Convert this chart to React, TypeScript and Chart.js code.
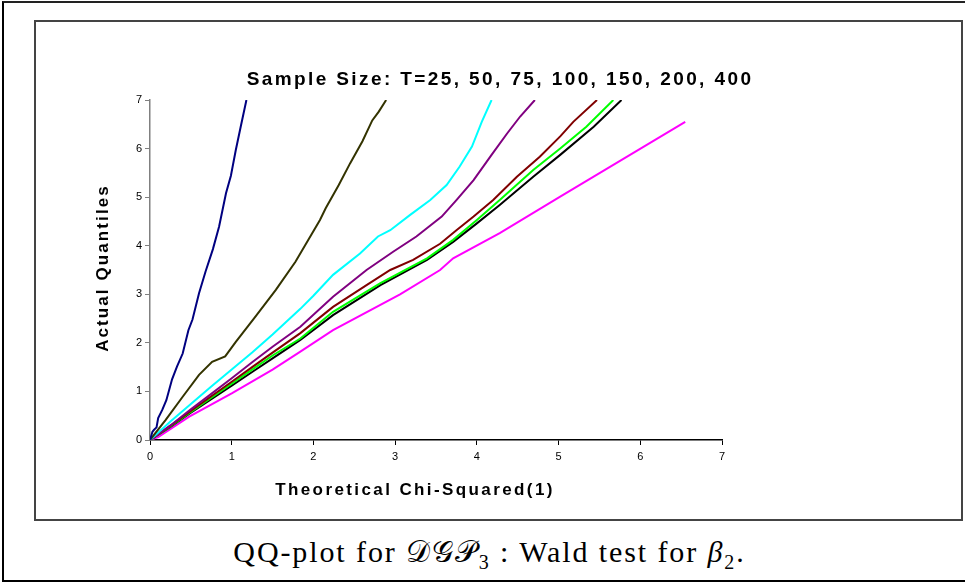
import React, { useEffect, useRef } from 'react';
import { Chart, registerables } from 'chart.js';

Chart.register(...registerables);

// ---- data (theoretical chi-squared(1) quantile, actual quantile) ----
const t25: [number, number][] = [
  [0, 0], [0.03, 0.17], [0.05, 0.21], [0.08, 0.26], [0.1, 0.45], [0.15, 0.62], [0.2, 0.82],
  [0.27, 1.25], [0.33, 1.51], [0.4, 1.78], [0.47, 2.26], [0.52, 2.48], [0.6, 3.02], [0.68, 3.47],
  [0.77, 3.93], [0.845, 4.39], [0.93, 5.08], [0.99, 5.44], [1.05, 5.97], [1.11, 6.45], [1.18, 7.0],
];
const t50: [number, number][] = [
  [0, 0], [0.19, 0.41], [0.4, 0.89], [0.6, 1.34], [0.76, 1.61], [0.92, 1.72], [1.05, 2.02],
  [1.29, 2.54], [1.54, 3.09], [1.78, 3.67], [2.08, 4.53], [2.15, 4.77], [2.31, 5.25], [2.45, 5.7],
  [2.6, 6.15], [2.72, 6.58], [2.8, 6.76], [2.89, 7.0],
];
const t75: [number, number][] = [
  [0, 0], [0.25, 0.38], [0.5, 0.74], [0.75, 1.1], [1.0, 1.45], [1.25, 1.8], [1.5, 2.17],
  [1.84, 2.7], [2.0, 2.97], [2.24, 3.4], [2.57, 3.84], [2.79, 4.19], [2.94, 4.32], [3.18, 4.63],
  [3.43, 4.94], [3.63, 5.25], [3.79, 5.63], [3.94, 6.04], [4.06, 6.55], [4.18, 7.0],
];
const t100: [number, number][] = [
  [0, 0], [0.25, 0.3], [0.5, 0.63], [0.75, 0.95], [1.0, 1.27], [1.25, 1.6], [1.5, 1.92],
  [1.84, 2.33], [2.24, 2.95], [2.65, 3.5], [2.98, 3.88], [3.26, 4.19], [3.57, 4.6], [3.75, 4.94],
  [3.96, 5.35], [4.18, 5.87], [4.37, 6.31], [4.53, 6.66], [4.71, 7.0],
];
const t150: [number, number][] = [
  [0, 0], [0.25, 0.29], [0.5, 0.6], [0.75, 0.9], [1.0, 1.2], [1.25, 1.5], [1.5, 1.8],
  [1.84, 2.2], [2.24, 2.74], [2.65, 3.19], [2.94, 3.5], [3.22, 3.71], [3.55, 4.04], [3.75, 4.32],
  [3.96, 4.6], [4.2, 4.94], [4.49, 5.42], [4.77, 5.83], [5.02, 6.25], [5.18, 6.55], [5.47, 7.0],
];
const t200: [number, number][] = [
  [0, 0], [0.25, 0.28], [0.5, 0.58], [0.75, 0.87], [1.0, 1.16], [1.25, 1.45], [1.5, 1.74],
  [1.84, 2.09], [2.24, 2.64], [2.82, 3.23], [3.39, 3.74], [3.71, 4.12], [4.0, 4.53], [4.28, 4.94],
  [4.69, 5.56], [5.02, 6.0], [5.34, 6.45], [5.67, 7.0],
];
const t400: [number, number][] = [
  [0, 0], [0.25, 0.27], [0.5, 0.56], [0.75, 0.84], [1.0, 1.12], [1.25, 1.4], [1.5, 1.68],
  [1.84, 2.06], [2.24, 2.57], [2.82, 3.19], [3.39, 3.71], [3.71, 4.08], [4.0, 4.46], [4.28, 4.84],
  [4.69, 5.42], [5.02, 5.87], [5.43, 6.45], [5.77, 7.0],
];
const reference: [number, number][] = [
  [0, 0], [0.1, 0.06], [0.48, 0.48], [1.0, 0.96], [1.5, 1.45], [1.84, 1.82], [2.24, 2.26],
  [3.06, 3.0], [3.55, 3.5], [3.71, 3.74], [4.28, 4.26], [5.02, 5.01], [6.55, 6.55],
];

const seriesNames = ['T=25', 'T=50', 'T=75', 'T=100', 'T=150', 'T=200', 'T=400', 'Chi-Squared(1)'];
const seriesData = [t25, t50, t75, t100, t150, t200, t400, reference];
const seriesColors = ['#000080', '#333300', '#00FFFF', '#800080', '#800000', '#00FF00', '#000000', '#FF00FF'];

const titleText = 'Sample Size: T=25, 50, 75, 100, 150, 200, 400';
const xTitleText = 'Theoretical Chi-Squared(1)';
const yTitleText = 'Actual Quantiles';
const axisMin = 0;
const axisMax = 7;

const textPlugin = {
  id: 'spacedTexts',
  afterDraw(chart: any) {
    const { ctx, chartArea, width } = chart;
    ctx.save();
    ctx.fillStyle = '#000';
    ctx.textAlign = 'center';
    ctx.textBaseline = 'middle';
    // main title
    ctx.font = 'bold 19px "Liberation Sans", Arial, sans-serif';
    (ctx as any).letterSpacing = '2.4px';
    ctx.fillText(titleText, width / 2 + 2, chartArea.top - 20);
    // x title
    ctx.font = 'bold 17px "Liberation Sans", Arial, sans-serif';
    (ctx as any).letterSpacing = '2.4px';
    ctx.fillText(xTitleText, chartArea.left + 265, chartArea.bottom + 50);
    // y title
    (ctx as any).letterSpacing = '2.1px';
    ctx.translate(chartArea.left - 47, (chartArea.top + chartArea.bottom) / 2 - 2);
    ctx.rotate(-Math.PI / 2);
    ctx.fillText(yTitleText, 0, 0);
    ctx.restore();
  },
};

export default function App() {
  const canvasRef = useRef<HTMLCanvasElement | null>(null);

  useEffect(() => {
    if (!canvasRef.current) return;
    const datasets = seriesData.map((pts, i) => ({
      label: seriesNames[i],
      data: pts.map(([x, y]) => ({ x, y })),
      borderColor: seriesColors[i],
      backgroundColor: seriesColors[i],
      borderWidth: 2,
      pointRadius: 0,
      tension: 0,
      fill: false,
    }));
    const tickFont = { family: '"Liberation Sans", Arial, sans-serif', size: 11 };
    const chart = new Chart(canvasRef.current, {
      type: 'line',
      data: { datasets },
      options: {
        animation: false,
        responsive: false,
        devicePixelRatio: 1,
        layout: { padding: { top: 78, left: 0, right: 238, bottom: 0 } },
        plugins: { legend: { display: false }, title: { display: false }, tooltip: { enabled: false } },
        scales: {
          x: {
            type: 'linear',
            min: axisMin,
            max: axisMax,
            ticks: { stepSize: 1, color: '#000', font: tickFont, padding: 5 },
            grid: { drawOnChartArea: false, drawTicks: true, tickLength: 5, color: '#000' },
            border: { display: true, color: '#000', width: 1.5 },
            afterFit: (s: any) => { s.height = 78; },
          },
          y: {
            type: 'linear',
            min: axisMin,
            max: axisMax,
            ticks: { stepSize: 1, color: '#000', font: tickFont, padding: 3 },
            grid: { drawOnChartArea: false, drawTicks: true, tickLength: 5, color: '#808080' },
            border: { display: true, color: '#808080', width: 1.5 },
            afterFit: (s: any) => { s.width = 114; },
          },
        },
      } as any,
      plugins: [textPlugin],
    });
    return () => chart.destroy();
  }, []);

  return (
    <div style={{ position: 'absolute', left: 0, top: 0, width: 965, height: 584, background: '#fff', overflow: 'hidden' }}>
      <div style={{ position: 'absolute', left: 2, top: 1, width: 990, height: 581, boxSizing: 'border-box', borderLeft: '2px solid #000', borderTop: '2px solid #222', borderBottom: '2px solid #000' }} />
      <div style={{ position: 'absolute', left: 34, top: 20, width: 929, height: 501, boxSizing: 'border-box', border: '2px solid #444' }} />
      <canvas ref={canvasRef} width={924} height={496} style={{ position: 'absolute', left: 36, top: 22, width: 924, height: 496 }} />
      <div style={{ position: 'absolute', left: 7, width: 965, top: 534, textAlign: 'center', fontFamily: '"Liberation Serif", "DejaVu Serif", serif', fontSize: 30, letterSpacing: '1.9px', lineHeight: '36px', color: '#000', whiteSpace: 'nowrap' }}>
        QQ-plot for <span style={{ fontFamily: '"DejaVu Sans", "DejaVu Serif", serif', fontStyle: 'normal' }}>𝒟𝒢𝒫</span><sub style={{ fontSize: 20 }}>3</sub> : Wald test for <i>β</i><sub style={{ fontSize: 20 }}>2</sub>.
      </div>
    </div>
  );
}
